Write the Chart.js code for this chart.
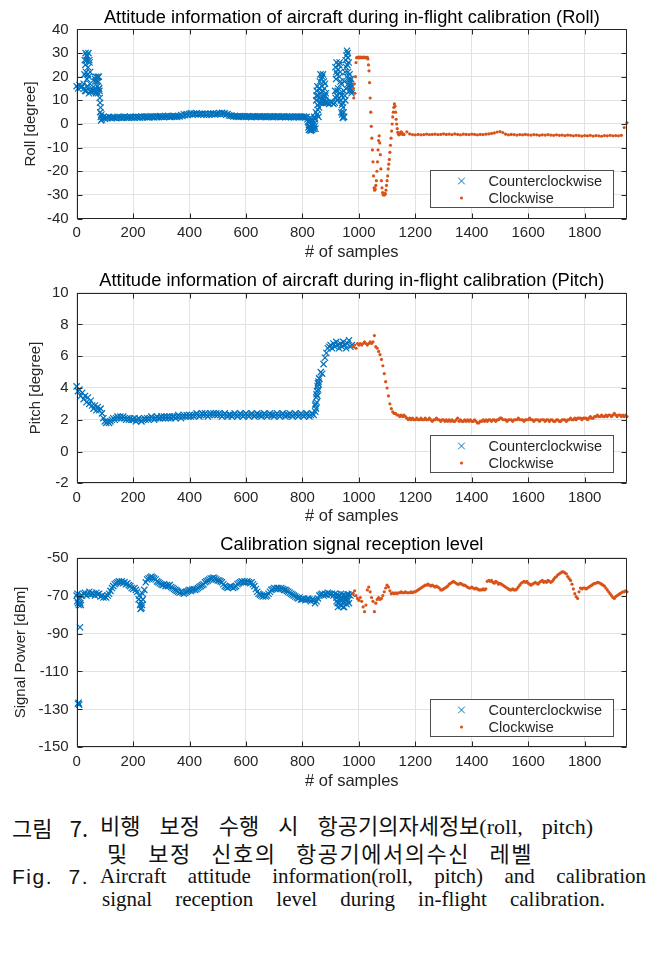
<!DOCTYPE html>
<html><head><meta charset="utf-8">
<script src="https://cdn.jsdelivr.net/npm/chart.js@4.4.1/dist/chart.umd.min.js"></script>
<style>
html,body{margin:0;padding:0;background:#fff;}
#page{position:relative;width:650px;height:957px;overflow:hidden;background:#fff;}
#page canvas{position:absolute;left:0;}
.cap{position:absolute;color:#111;white-space:normal;}
.ko{font-family:"Noto Sans CJK KR",sans-serif;font-size:22px;line-height:26px;}
.mix{font-family:"Liberation Serif","Noto Sans CJK KR",serif;font-size:22px;line-height:26px;}
.en{font-family:"Liberation Serif",serif;font-size:21px;line-height:24px;}
.fig{font-family:"Liberation Sans",Arial,sans-serif;font-size:21px;line-height:24px;letter-spacing:1.5px;}
.j{text-align:justify;text-align-last:justify;}
</style></head>
<body><div id="page">
<canvas id="c1" width="650" height="262" style="top:0px"></canvas>
<canvas id="c2" width="650" height="265" style="top:262px"></canvas>
<canvas id="c3" width="650" height="265" style="top:527px"></canvas>
<div class="cap ko j" style="left:12px;top:814px;width:76px;">그림 7.</div>
<div class="cap mix j" style="left:100px;top:814px;width:493px;">비행 보정 수행 시 항공기의자세정보(roll, pitch)</div>
<div class="cap ko j" style="left:107px;top:839px;width:426px;letter-spacing:1.5px;">및 보정 신호의 항공기에서의수신 레벨</div>
<div class="cap fig j" style="left:12px;top:865px;width:77px;">Fig. 7.</div>
<div class="cap en j" style="left:100px;top:864px;width:546px;">Aircraft attitude information(roll, pitch) and calibration</div>
<div class="cap en j" style="left:102px;top:887px;width:503px;">signal reception level during in-flight calibration.</div>
</div>
<script>
// ---------------- DATA ----------------
const seriesLabels = ['Counterclockwise', 'Clockwise'];
const xTicksStep = 200;

// Roll [degree], counterclockwise: samples 0..975 every 5
const rollCcw = [
16,15,16.5,15.5,16,17,14,29,21,27,
13.5,15,14,18,13.5,20,15,7,2,3,
2.2,2.8,2.5,3.0,2.6,2.4,2.9,2.7,2.5,3.0,
2.6,2.9,2.5,2.8,3.1,2.6,2.9,2.6,3.0,2.7,
2.9,2.6,3.1,2.8,3.0,2.7,3.2,2.8,3.0,3.2,
2.8,3.1,2.9,3.3,3.0,2.8,3.2,2.9,3.1,3.4,
3.0,3.2,2.9,3.3,3.1,3.5,3.0,3.2,3.4,3.1,
3.3,3.0,3.4,3.2,3.8,3.4,4.1,3.7,4.2,3.8,
4.2,4.6,4.0,4.4,4.1,4.5,3.9,4.3,4.1,4.4,
4.0,4.3,3.8,4.2,3.9,4.4,4.1,4.5,4.0,4.3,
4.2,4.6,4.1,4.7,4.3,4.5,3.9,4.2,3.7,3.5,
3.5,3.2,3.4,3.1,3.3,3.0,3.4,3.2,3.1,3.3,
3.0,3.3,3.1,3.2,2.9,3.3,3.1,3.0,3.2,3.1,
3.3,3.0,3.2,3.1,2.9,3.2,3.0,3.3,3.1,2.9,
3.2,3.0,3.1,3.3,2.9,3.1,3.0,3.2,2.9,3.1,
3.0,3.2,2.9,3.1,2.8,3.0,3.2,2.9,3.1,3.0,
2.9,3.1,2.8,3.0,1,-1,-2.5,0,-2,2,
12,6,15,9,20,12,17,9,9,8.5,
9.5,9,8.5,9,22,14,25,18,8,3,
12,24,30,19,17,14];
// Roll, counterclockwise: extra samples inside the oscillating bursts
const rollCcwBurstSamples = [
27,28,29,31,32,33,34,36,37,38,39,41,42,43,44,46,47,48,49,
64,66,67,68,69,71,72,73,74,76,77,78,79,81,82,83,84,86,87,88,
818,821,822,823,826,827,828,829,831,832,833,834,836,837,838,841,842,843,844,846,
848,849,851,852,853,854,856,857,858,859,861,862,863,864,866,867,868,869,871,872,873,874,876,877,878,879,881,882,883,884,
916,917,918,919,921,922,923,924,926,927,928,929,931,932,933,934,936,937,938,939,941,942,943,944,946,947,948,949,
951,952,953,954,956,957,958,959,961,962,963,964,966,967,968,969,971,972,973,974];
const rollCcwBurst = [
15,21,27,25,30,22,14,27,19,29,16,24,30,20,13,26,17,22,14,
14,19,15,20,13,18,14,19.5,16,13,18,15,20,14,11,9,5,3,1.5,4,
2,-1.5,1,-2.5,0.5,-2,2.5,-2.8,0,-1.5,2,-2.5,-0.5,1.5,-2,0,3,-1,2.5,-2,
5,10,14,4,16,8,12,3,15,7,11,18,9,21,13,19,10,16,9,14,21,11,18,10,15,9,12,9.5,13,9,
14,24,11,19,26,12,21,10,23,15,25,11,20,26,13,22,10,17,5,12,4,9,2.5,7,5,14,3,18,
22,10,27,15,29,20,31,25,28,22,17,26,16,21,14,18,15,19,16,13];
// Roll, clockwise turn: samples 980..1160 every 2
const rollCwTurn = [
15,11,17,13,20,26,28,28.2,28.2,28,
28.3,28.2,28,28.2,28.3,28.1,28.2,28,28.2,28.3,
28.1,28.2,28,28.2,28.1,28.2,27.5,25,22.5,17.5,
11,5,-1,-6,-11,-16,-22,-27,-28,-27.5,
-26,-24,-20,-16,-11,-7,-5,-8,-13,-19,
-24,-27,-29,-30,-30,-29.5,-30,-29.5,-28,-26,
-24,-22,-19,-17,-15,-12,-9,-6,-3,0,
3,5,7,8.5,7.5,5,2,0,-2,-3.5,
-4.2,-4.6,-4.3,-4.1,-3.6,-3.3,-3.8,-4.2,-4.4,-4.3,
-4.5];
// Roll, clockwise cruise: samples 1170..1950 every 10
const rollCwCruise = [
-3.3,-4.2,-4.5,-4.6,-4.4,-4.6,-4.5,-4.3,-4.5,-4.4,
-4.3,-4.5,-4.4,-4.2,-4.4,-4.3,-4.5,-4.2,-4.4,-4.6,
-4.3,-4.4,-4.5,-4.3,-4.4,-4.6,-4.4,-4.5,-4.3,-4.2,
-4.0,-3.8,-3.4,-3.2,-3.6,-4.3,-4.6,-4.4,-4.5,-4.7,
-4.5,-4.6,-4.4,-4.6,-4.7,-4.5,-4.6,-4.8,-4.6,-4.7,
-4.5,-4.7,-4.8,-4.6,-4.8,-4.7,-4.9,-4.7,-4.8,-5.0,
-4.8,-4.9,-5.1,-4.9,-5.0,-4.8,-5.1,-4.9,-5.0,-5.2,
-4.9,-5.0,-4.8,-5.0,-4.9,-5.0,-4.8,-1.5,0.5];

// Pitch [degree], counterclockwise: samples 0..975 every 5
const pitchCcw = [
4.1,3.8,3.9,3.5,3.7,3.3,3.5,3.1,3.4,3.0,
3.2,2.9,2.7,2.9,2.6,2.8,2.6,2.7,2.4,2.1,
1.9,1.8,1.9,1.8,1.9,2.0,2.1,2.0,2.1,2.2,
2.1,2.2,2.1,2.2,2.1,2.0,2.1,2.0,2.1,2.0,
2.0,2.1,1.9,2.0,2.1,2.0,1.9,2.0,2.1,2.0,
2.1,2.0,2.1,2.2,2.1,2.0,2.1,2.2,2.1,2.1,
2.2,2.1,2.2,2.1,2.2,2.1,2.2,2.1,2.2,2.2,
2.1,2.2,2.3,2.2,2.1,2.2,2.3,2.2,2.3,2.2,
2.3,2.2,2.3,2.2,2.3,2.4,2.3,2.2,2.3,2.4,
2.3,2.4,2.3,2.2,2.3,2.4,2.3,2.4,2.3,2.4,
2.3,2.4,2.3,2.2,2.3,2.4,2.3,2.2,2.3,2.3,
2.2,2.3,2.4,2.3,2.2,2.3,2.4,2.3,2.2,2.3,
2.4,2.3,2.2,2.3,2.4,2.3,2.2,2.3,2.4,2.3,
2.3,2.2,2.3,2.4,2.3,2.2,2.3,2.4,2.3,2.3,
2.2,2.3,2.4,2.3,2.2,2.3,2.4,2.3,2.2,2.3,
2.3,2.4,2.3,2.2,2.3,2.4,2.3,2.2,2.3,2.4,
2.3,2.2,2.3,2.4,2.3,2.2,2.3,2.4,2.3,2.9,
3.6,4.3,4.6,5.0,4.9,5.5,5.9,6.2,6.5,6.6,
6.7,6.5,6.8,6.6,6.9,6.7,6.5,6.8,6.6,6.9,
6.7,6.5,6.8,7.0,6.6,6.7];
// Pitch, counterclockwise: extra samples in the climb column
const pitchCcwBurstSamples = [846,847,848,849,851,852,853,854,856,857,858,859];
const pitchCcwBurst = [2.5,3.0,2.7,3.4,3.1,3.8,3.5,4.1,3.9,4.4,4.2,4.6];
// Pitch, clockwise: samples 980..1950 every 5
const pitchCw = [
6.6,6.7,6.5,6.8,6.7,6.8,6.7,6.8,6.9,6.8,
6.7,6.8,6.9,6.8,6.9,7.3,6.6,6.5,6.3,6.1,
5.8,5.4,4.9,4.4,4.0,3.5,3.0,2.7,2.5,2.4,
2.4,2.3,2.3,2.2,2.3,2.2,2.3,2.2,2.1,2.0,
2.1,2.0,2.1,2.0,2.0,2.1,2.0,2.0,2.1,2.0,
2.0,2.1,2.0,2.0,2.1,2.0,1.9,2.0,2.0,2.1,
2.0,2.0,1.9,2.0,2.0,1.9,2.0,1.9,2.0,1.9,
2.0,1.9,1.9,2.0,2.1,1.9,2.0,1.9,1.9,2.0,
1.9,2.0,1.9,2.0,1.9,1.9,2.0,1.9,1.8,1.8,
1.9,1.9,2.0,1.9,2.0,1.9,2.0,2.0,1.9,2.0,
2.0,1.9,2.0,2.0,2.1,2.1,2.0,2.0,2.0,1.9,
2.0,2.0,2.0,1.9,2.0,2.0,2.0,2.1,2.0,2.0,
2.0,1.9,2.0,2.0,2.0,2.1,2.0,2.0,1.9,2.0,
2.0,2.0,1.9,2.0,2.0,2.0,1.9,2.0,2.0,1.9,
2.0,2.0,1.9,1.9,2.0,2.0,1.9,1.9,2.0,2.0,
2.0,1.9,2.0,2.0,2.1,2.0,2.0,2.1,2.0,2.1,
2.1,2.1,2.0,2.1,2.1,2.1,2.0,2.1,2.2,2.1,
2.1,2.2,2.2,2.3,2.2,2.2,2.3,2.2,2.2,2.3,
2.2,2.3,2.3,2.2,2.3,2.4,2.3,2.2,2.3,2.3,
2.2,2.3,2.2,2.3,2.2];

// Signal power [dBm], counterclockwise: samples 0..975 every 5
const signalCcw = [
-70,-74,-72,-75,-70,-69,-68.5,-70,-69,-68,
-69.5,-68.5,-69,-70,-68.5,-69.5,-69,-70.5,-70,-71,
-70.5,-71,-70,-69,-67.5,-66,-65,-64,-63.5,-63,
-62.5,-63,-62.5,-63.5,-63,-64,-63.5,-64.5,-65,-66,
-66.5,-66,-67,-68,-72,-75,-76.5,-72,-67,-63,
-61.5,-61,-60.5,-60,-60.5,-61,-61.5,-62.5,-63,-63.5,
-64,-64.5,-64,-65,-64.5,-65,-64.5,-65.5,-66,-66.5,
-67,-67.5,-68,-68.5,-68,-68.5,-69,-68.5,-68,-67.5,
-67,-67.5,-67,-66.5,-67,-66.5,-66,-65.5,-65,-64.5,
-64,-63,-62.5,-62,-61.5,-61,-61,-60.5,-61,-61.5,
-62,-62,-62.5,-63,-64,-65,-65.5,-66,-65.5,-65,
-65.5,-66,-65.5,-65,-64,-63.5,-63,-62.5,-63,-62.5,
-63,-62.5,-63,-63.5,-63,-64,-65,-66.5,-68,-69,
-69.5,-70,-70.5,-70,-70.5,-70,-69,-68,-67,-66.5,
-66,-66.5,-66,-66,-66.5,-66,-66.5,-67,-67,-67.5,
-68,-68.5,-69,-69.5,-70,-70.5,-71,-71.5,-71,-72,
-72,-71.5,-72.5,-72,-71.5,-72,-73,-72,-72.5,-74,
-73,-71.5,-70,-69.5,-69,-70,-69,-69.5,-68.5,-69,
-69.5,-69,-70,-69,-71,-74,-70,-75,-72,-76,
-71,-73,-69.5,-74,-70,-69];
// Signal, counterclockwise: extra samples where the band spreads
const signalCcwBurstSamples = [2,3,8,11,13,16,222,227,229,232,234,
921,923,926,928,931,933,936,938,941,943,946,948,951,953,956,958,961,963];
const signalCcwBurst = [-73,-69,-75,-71,-74,-70,-70,-77,-73,-75,-69,
-73,-69.5,-76,-70.5,-74,-72,-69,-75.5,-71,-73.5,-69.5,-76,-72,-70,-74.5,-71,-72.5,-69.5];
// Counterclockwise outliers at the start of the signal record
const signalCcwOutlierSamples = [5, 7, 9, 12];
const signalCcwOutliers = [-127, -126.5, -127.5, -86.7];
// Signal power, clockwise: samples 980..1950 every 5
const signalCw = [
-69,-67.5,-70,-71.5,-72.5,-71,-73,-76,-78.5,-75,
-67,-65.5,-68,-71,-73,-78.5,-74,-72,-71,-72,
-71.5,-70,-68,-66,-64.5,-65.5,-67.5,-69,-68.5,-69,
-68.5,-69,-68.5,-68.5,-68,-68.5,-68.5,-68,-68.5,-68.5,
-68.5,-68,-68.5,-68,-68,-67.5,-67,-66.5,-66,-65.5,
-65,-64.5,-64.5,-64,-64.5,-65,-64.5,-65,-65.5,-65,
-65.5,-66,-67,-67,-66.5,-66,-65.5,-65,-64,-63.5,
-63,-62.5,-63,-63.5,-64,-64,-63.5,-64,-64.5,-64.5,
-65,-65.5,-66,-66,-65.5,-66,-66.5,-66,-66.5,-67,
-67,-67,-66.5,-67,-66.5,-62.5,-62,-62.5,-62,-63,
-63.5,-62.5,-63,-64,-63.5,-64,-64.5,-65,-65.5,-66,
-66.5,-67,-67,-66.5,-67,-67,-66.5,-65.5,-64.5,-63.5,
-63,-62.5,-63,-62.5,-63.5,-64,-64.5,-64,-63.5,-63,
-63.5,-64,-63,-62.5,-62,-63,-62.5,-63,-62,-62.5,
-63,-62.5,-61.5,-60.5,-60,-59,-58.5,-58,-57.5,-57.5,
-58,-58.5,-60,-61,-62,-64,-66.5,-69,-70.5,-71.5,
-68,-66,-66.5,-66,-66,-66.5,-66,-65.5,-65,-64.5,
-64,-63.5,-63.5,-63,-63.2,-63.5,-64,-64.5,-65,-66,
-67,-68,-69,-70,-71,-71.5,-70.5,-70,-69.5,-69,
-68.5,-68,-68,-67.5,-68];

// sample numbers (x axis) for each regular value list
function seq(start, step, n) { const a = []; for (let i = 0; i < n; i++) a.push(start + i * step); return a; }
const rollCcwSamples = seq(0, 5, rollCcw.length);
const rollCwTurnSamples = seq(980, 2, rollCwTurn.length);
const rollCwCruiseSamples = seq(1170, 10, rollCwCruise.length);
const pitchCcwSamples = seq(0, 5, pitchCcw.length);
const pitchCwSamples = seq(980, 5, pitchCw.length);
const signalCcwSamples = seq(0, 5, signalCcw.length);
const signalCwSamples = seq(980, 5, signalCw.length);

// ---------------- RENDERING ----------------
const FONT = '"Liberation Sans", Arial, sans-serif';
const TXT = '#262626';
const GRID = '#e2e2e2';
const CCW = '#0072BD';
const CW = '#D95319';

function pairs(xs, ys) { return ys.map((y, i) => ({ x: xs[i], y: y })); }

const axesBox = {
  id: 'axesBox',
  afterDatasetsDraw(chart) {
    const { ctx, chartArea: a, scales } = chart;
    const L = Math.round(a.left) + 0.5, R = Math.round(a.right) - 0.5;
    const T = Math.round(a.top) + 0.5, B = Math.round(a.bottom) - 0.5;
    ctx.save();
    ctx.strokeStyle = TXT; ctx.lineWidth = 1;
    ctx.beginPath();
    ctx.rect(L, T, R - L, B - T);
    const tl = 5;
    scales.x.ticks.forEach(t => {
      const p = Math.round(scales.x.getPixelForValue(t.value)) + 0.5;
      ctx.moveTo(p, B); ctx.lineTo(p, B - tl);
      ctx.moveTo(p, T); ctx.lineTo(p, T + tl);
    });
    scales.y.ticks.forEach(t => {
      const p = Math.round(scales.y.getPixelForValue(t.value)) + 0.5;
      ctx.moveTo(L, p); ctx.lineTo(L + tl, p);
      ctx.moveTo(R, p); ctx.lineTo(R - tl, p);
    });
    ctx.stroke();
    ctx.restore();
  }
};

const legendInside = {
  id: 'legendInside',
  afterDraw(chart) {
    const { ctx, chartArea: a } = chart;
    const w = 183, h = 37;
    const x0 = Math.round(a.right - 14 - w) + 0.5, y0 = Math.round(a.bottom - 11.5 - h) + 0.5;
    ctx.save();
    ctx.fillStyle = '#fff';
    ctx.fillRect(x0, y0, w, h);
    ctx.strokeStyle = '#4d4d4d'; ctx.lineWidth = 1;
    ctx.strokeRect(x0, y0, w, h);
    const rows = [y0 + 10.5, y0 + 27.5];
    chart.data.datasets.forEach((ds, i) => {
      const cy = rows[i], mx = x0 + 31;
      if (ds.pointStyle === 'crossRot') {
        const r = 3.3;
        ctx.strokeStyle = ds.pointBorderColor; ctx.lineWidth = 1;
        ctx.beginPath();
        ctx.moveTo(mx - r, cy - r); ctx.lineTo(mx + r, cy + r);
        ctx.moveTo(mx + r, cy - r); ctx.lineTo(mx - r, cy + r);
        ctx.stroke();
      } else {
        ctx.fillStyle = ds.pointBackgroundColor;
        ctx.beginPath(); ctx.arc(mx, cy, 1.6, 0, Math.PI * 2); ctx.fill();
      }
      ctx.fillStyle = TXT;
      ctx.font = '14.5px ' + FONT;
      ctx.textBaseline = 'middle'; ctx.textAlign = 'left';
      ctx.fillText(ds.label, x0 + 58, cy + 0.5);
    });
    ctx.restore();
  }
};

function buildChart(id, o) {
  return new Chart(document.getElementById(id), {
    type: 'scatter',
    data: {
      datasets: [
        { label: seriesLabels[0], data: o.ccw, pointStyle: 'crossRot', pointRadius: 4.4,
          pointBorderWidth: 1.2, pointBorderColor: CCW, pointBackgroundColor: CCW,
          borderColor: CCW, backgroundColor: CCW, order: 1, clip: 6 },
        { label: seriesLabels[1], data: o.cw, pointStyle: 'circle', pointRadius: 1.6,
          pointBorderWidth: 0, pointBackgroundColor: CW, pointBorderColor: CW,
          borderColor: CW, backgroundColor: CW, order: 0, clip: 6 }
      ]
    },
    options: {
      responsive: false, animation: false, events: [],
      layout: { padding: { left: 0, right: 23, top: 0, bottom: 0 } },
      plugins: {
        legend: { display: false }, tooltip: { enabled: false },
        title: { display: true, fullSize: false, text: o.title, color: '#000',
          font: { family: FONT, size: 18.3, weight: 'normal', lineHeight: 1.2 },
          padding: { top: o.titleTop, bottom: o.titleBottom } }
      },
      scales: {
        x: {
          type: 'linear', position: 'bottom', min: 0, max: 1950,
          ticks: { stepSize: xTicksStep, includeBounds: false, autoSkip: false, maxRotation: 0,
            color: TXT, font: { family: FONT, size: 15 }, padding: 5.5, callback: v => String(v) },
          grid: { color: GRID, drawTicks: false, lineWidth: 1 },
          border: { display: false },
          title: { display: true, text: '# of samples', color: TXT,
            font: { family: FONT, size: 16.5, lineHeight: 1.2 }, padding: { top: 0, bottom: o.xTitleBottom } },
          afterFit: s => { s.height = o.xHeight; }
        },
        y: {
          type: 'linear', min: o.ymin, max: o.ymax,
          ticks: { stepSize: o.ystep, autoSkip: false, color: TXT, font: { family: FONT, size: 15 },
            padding: 8, callback: v => String(v) },
          grid: { color: GRID, drawTicks: false, lineWidth: 1 },
          border: { display: false },
          title: { display: true, text: o.ytitle, color: TXT,
            font: { family: FONT, size: 15, lineHeight: 1.2 }, padding: { top: o.yTitleTop, bottom: 0 } },
          afterFit: s => { s.width = 76.6; }
        }
      }
    },
    plugins: [axesBox, legendInside]
  });
}

buildChart('c1', {
  title: 'Attitude information of aircraft during in-flight calibration (Roll)',
  ytitle: 'Roll [degree]', ymin: -40, ymax: 40, ystep: 10,
  ccw: pairs(rollCcwSamples, rollCcw).concat(pairs(rollCcwBurstSamples, rollCcwBurst)),
  cw: pairs(rollCwTurnSamples, rollCwTurn).concat(pairs(rollCwCruiseSamples, rollCwCruise)),
  titleTop: 6.5, titleBottom: 1, xHeight: 43.5, xTitleBottom: 0, yTitleTop: 22
});
buildChart('c2', {
  title: 'Attitude information of aircraft during in-flight calibration (Pitch)',
  ytitle: 'Pitch [degree]', ymin: -2, ymax: 10, ystep: 2,
  ccw: pairs(pitchCcwSamples, pitchCcw).concat(pairs(pitchCcwBurstSamples, pitchCcwBurst)),
  cw: pairs(pitchCwSamples, pitchCw),
  titleTop: 7.5, titleBottom: 1.2, xHeight: 43.7, xTitleBottom: 0.4, yTitleTop: 26.5
});
buildChart('c3', {
  title: 'Calibration signal reception level',
  ytitle: 'Signal Power [dBm]', ymin: -150, ymax: -50, ystep: 20,
  ccw: pairs(signalCcwSamples, signalCcw).concat(pairs(signalCcwBurstSamples, signalCcwBurst))
        .concat(pairs(signalCcwOutlierSamples, signalCcwOutliers)),
  cw: pairs(signalCwSamples, signalCw),
  titleTop: 6.5, titleBottom: 2.2, xHeight: 44.7, xTitleBottom: 0.4, yTitleTop: 12
});
</script>
</body></html>
